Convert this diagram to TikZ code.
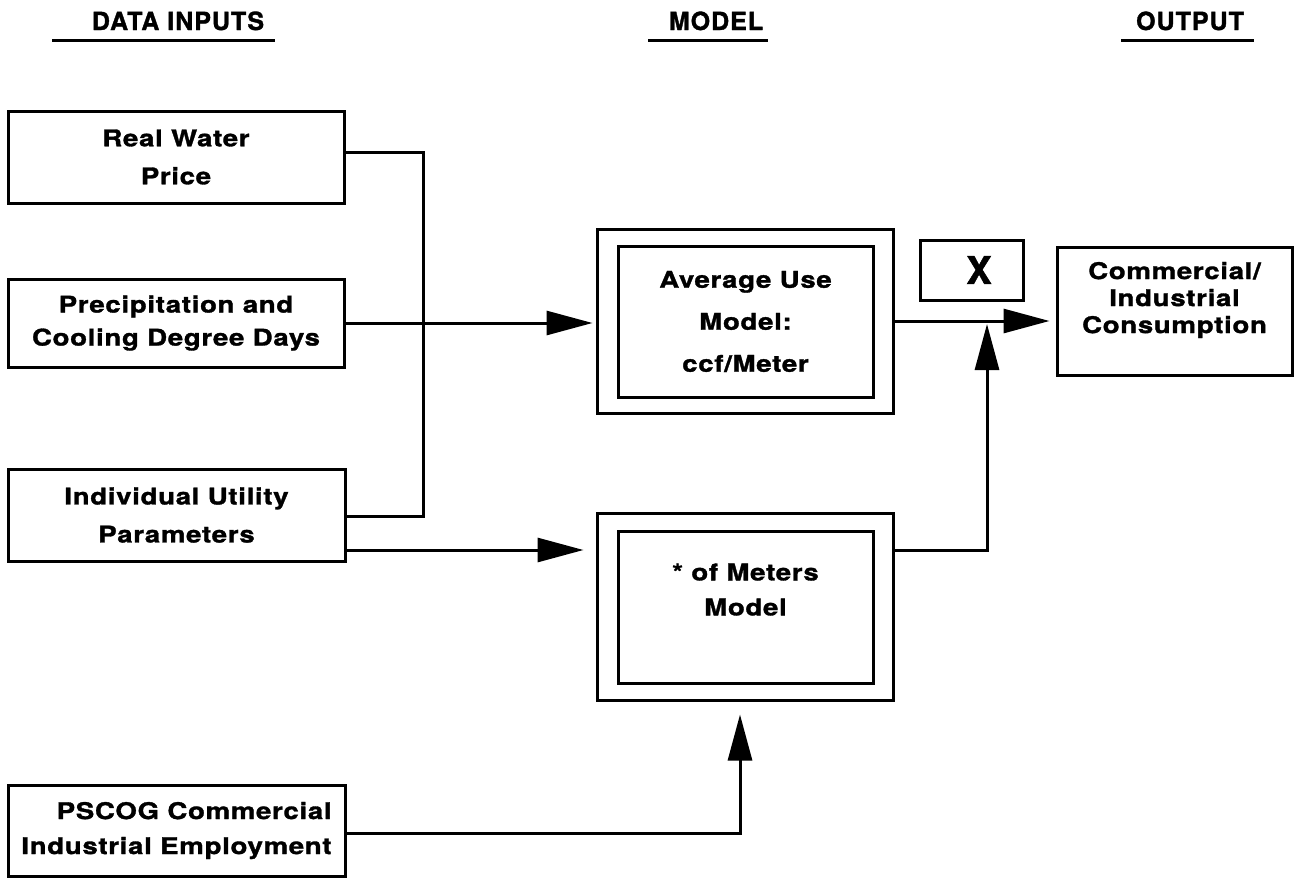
\documentclass[tikz,border=0pt]{standalone}
\usepackage{fontspec}
\newfontfamily\diafont[FakeStretch=1.2,LetterSpace=3,FakeBold=1.4]{TeX Gyre Heros}
\newfontfamily\headfont[LetterSpace=4,FakeBold=1.4]{TeX Gyre Heros}
\usetikzlibrary{positioning,calc,arrows.meta}
\tikzset{font=\diafont\bfseries\fontsize{23}{38}\selectfont}

\begin{document}
\begin{tikzpicture}[x=1pt, y=-1pt, line width=3pt,
	box/.style={draw, align=center, inner sep=0pt},
	head/.style={anchor=base, inner sep=0pt, font=\headfont\bfseries\fontsize{25}{30}\selectfont},
	arr/.style={-{Triangle[length=46pt, width=24pt]}}]
	\useasboundingbox (0,0) rectangle (1296,878);

	% headings
	\node[head] (hin)  at (178,30)  {DATA INPUTS};
	\node[head] (hmod) at (716,30)  {MODEL};
	\node[head] (hout) at (1190,30) {OUTPUT};
	\draw[line width=3pt] (52,40) -- (275,40);
	\draw[line width=3pt] (648,40) -- (768,40);
	\draw[line width=3pt] (1121,40) -- (1254,40);

	% data inputs
	\node[box, minimum width=336pt, minimum height=92pt] (price)  at (176,157) {Real Water\\Price};
	\node[box, minimum width=336pt, minimum height=88pt] (precip) at (176,323) {Precipitation and\\[-5pt]Cooling Degree Days};
	\node[box, minimum width=337pt, minimum height=92pt] (util)   at (176.5,515) {Individual Utility\\Parameters};
	\node[box, align=right, minimum width=337pt, minimum height=91pt] (pscog) at (176.5,830.5) {PSCOG Commercial\\[-3pt]Industrial Employment};

	% model
	\node[box, minimum width=296pt, minimum height=184pt] (avgouter) at (745,321) {};
	\node[box, minimum width=255pt, minimum height=151pt] (avg) at (745.5,321.5) {Average Use\\[4pt]Model:\\[4pt]ccf/Meter};
	\node[box, minimum width=296pt, minimum height=187pt] (metersouter) at (745,606.5) {};
	\node[box, minimum width=255pt, minimum height=152pt] (meters) at (745.5,607) {* of Meters\\[-3pt]Model\\[-3pt]\mbox{}};
	\node[box, minimum width=103pt, minimum height=60pt, font=\headfont\bfseries\fontsize{38}{40}\selectfont] (mult) at (971.5,270) {\hspace{15pt}X};

	% output
	\node[box, minimum width=235pt, minimum height=128pt] (comm) at (1174.5,311) {Commercial/\\[-11pt]Industrial\\[-11pt]Consumption\\[-11pt]\mbox{}};

	% connectors
	\coordinate (bustop) at (423,152);
	\coordinate (busbot) at (423,516);
	\coordinate (join) at (987,321);
	\draw (price.east |- bustop) -- (bustop) -- (busbot) -- (util.east |- busbot);
	\draw[arr, shorten >=3pt] (precip.east) -- (precip.east -| avgouter.west);
	\draw[arr, shorten >=12pt] ([yshift=-35pt]util.east) -- ([yshift=-35pt]util.east -| metersouter.west);
	\draw[arr, shorten >=6pt] (avgouter.east) -- (avgouter.east -| comm.west);
	\draw[arr, shorten >=3pt] ([yshift=56.5pt]metersouter.east) -| (join);
	\draw[arr, shorten >=13pt] ([yshift=-2.5pt]pscog.east) -| ([xshift=-5pt]metersouter.south);
\end{tikzpicture}
\end{document}
